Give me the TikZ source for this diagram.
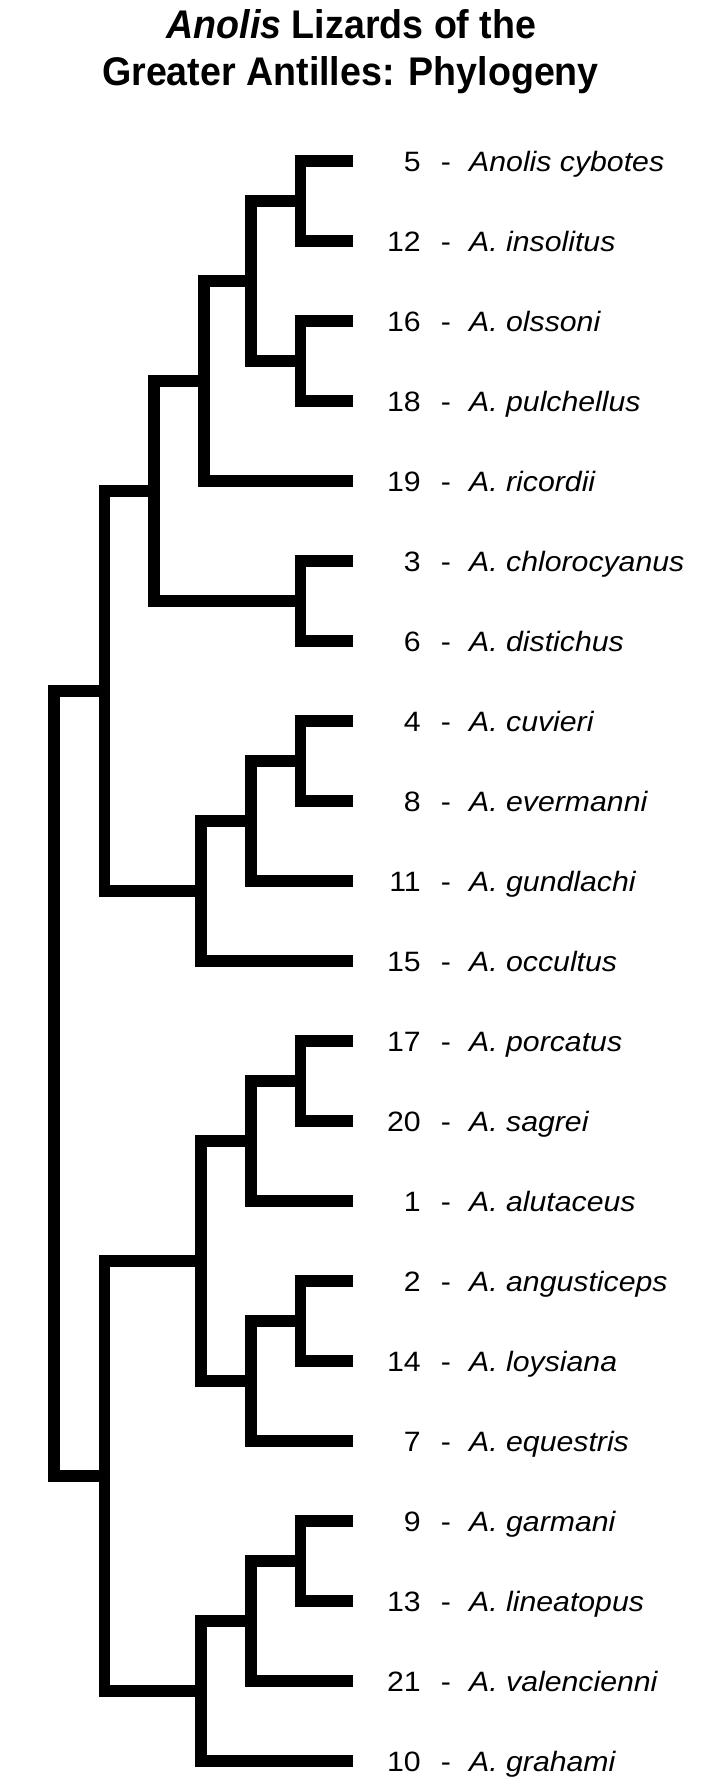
\documentclass[tikz,border=0pt]{standalone}
\usepackage{fontspec}
\setmainfont{Liberation Sans}
\newfontfamily\lblfont[FakeStretch=1.08]{Liberation Sans}
\newfontfamily\ttlfont[FakeStretch=0.94]{Liberation Sans}
\begin{document}
\begin{tikzpicture}[x=1pt,y=-1pt,
  branch/.style={line width=11.5pt, line join=miter, line cap=butt},
  num/.style={font=\lblfont\fontsize{28}{32}\selectfont, inner sep=0pt, anchor=base east},
  dashlbl/.style={font=\lblfont\fontsize{28}{32}\selectfont, inner sep=0pt, anchor=base},
  sp/.style={font=\lblfont\itshape\fontsize{28}{32}\selectfont, inner sep=0pt, anchor=base west},
  ttl/.style={font=\ttlfont\bfseries\fontsize{40}{48}\selectfont, inner sep=0pt, anchor=base}]
\useasboundingbox (0,0) rectangle (720,1791);
\fill[white] (0,0) rectangle (720,1791);
% title
\node[ttl] (t1) at (351.5,38.5) {\textit{Anolis} Lizards of the};
\node[ttl] (t2) at (350.5,85) {Greater Antilles: Phylogeny};
% leaves and labels
\foreach \i/\n/\s in {1/5/Anolis cybotes, 2/12/A. insolitus, 3/16/A. olssoni, 4/18/A. pulchellus,
  5/19/A. ricordii, 6/3/A. chlorocyanus, 7/6/A. distichus, 8/4/A. cuvieri, 9/8/A. evermanni,
  10/11/A. gundlachi, 11/15/A. occultus, 12/17/A. porcatus, 13/20/A. sagrei, 14/1/A. alutaceus,
  15/2/A. angusticeps, 16/14/A. loysiana, 17/7/A. equestris, 18/9/A. garmani, 19/13/A. lineatopus,
  20/21/A. valencienni, 21/10/A. grahami} {
  \pgfmathsetmacro\yy{160.8+80*(\i-1)}
  \pgfmathsetmacro\yb{\yy+10.8}
  \coordinate (l\i) at (353,\yy);
  \node[num] (n\i) at (421,\yb) {\n};
  \node[dashlbl] (d\i) at (446,\yb) {-};
  \node[sp] (s\i) at (469,\yb) {\s};
}
% internal nodes
\coordinate (a1) at (300.5,200.8);
\coordinate (a2) at (300.5,360.8);
\coordinate (a3) at (251,280.8);
\coordinate (a4) at (204,380.8);
\coordinate (a5) at (300.5,600.8);
\coordinate (a6) at (154,490.8);
\coordinate (b1) at (300.5,760.8);
\coordinate (b2) at (251,820.8);
\coordinate (b3) at (201,890.8);
\coordinate (c0) at (104.5,690.8);
\coordinate (c1) at (300.5,1080.8);
\coordinate (c2) at (251,1140.8);
\coordinate (c3) at (300.5,1320.8);
\coordinate (c4) at (251,1380.8);
\coordinate (c5) at (201,1260.8);
\coordinate (e1) at (300.5,1560.8);
\coordinate (e2) at (251,1620.8);
\coordinate (e3) at (201,1690.8);
\coordinate (e0) at (104.5,1475.8);
\coordinate (root) at (54,1083.3);
% branches
\draw[branch] (l1) -| (a1) |- (l2);
\draw[branch] (l3) -| (a2) |- (l4);
\draw[branch] (a1) -| (a3) |- (a2);
\draw[branch] (a3) -| (a4) |- (l5);
\draw[branch] (l6) -| (a5) |- (l7);
\draw[branch] (a4) -| (a6) |- (a5);
\draw[branch] (l8) -| (b1) |- (l9);
\draw[branch] (b1) -| (b2) |- (l10);
\draw[branch] (b2) -| (b3) |- (l11);
\draw[branch] (a6) -| (c0) |- (b3);
\draw[branch] (l12) -| (c1) |- (l13);
\draw[branch] (c1) -| (c2) |- (l14);
\draw[branch] (l15) -| (c3) |- (l16);
\draw[branch] (c3) -| (c4) |- (l17);
\draw[branch] (c2) -| (c5) |- (c4);
\draw[branch] (l18) -| (e1) |- (l19);
\draw[branch] (e1) -| (e2) |- (l20);
\draw[branch] (e2) -| (e3) |- (l21);
\draw[branch] (c5) -| (e0) |- (e3);
\draw[branch] (c0) -| (root) |- (e0);
\end{tikzpicture}
\end{document}
